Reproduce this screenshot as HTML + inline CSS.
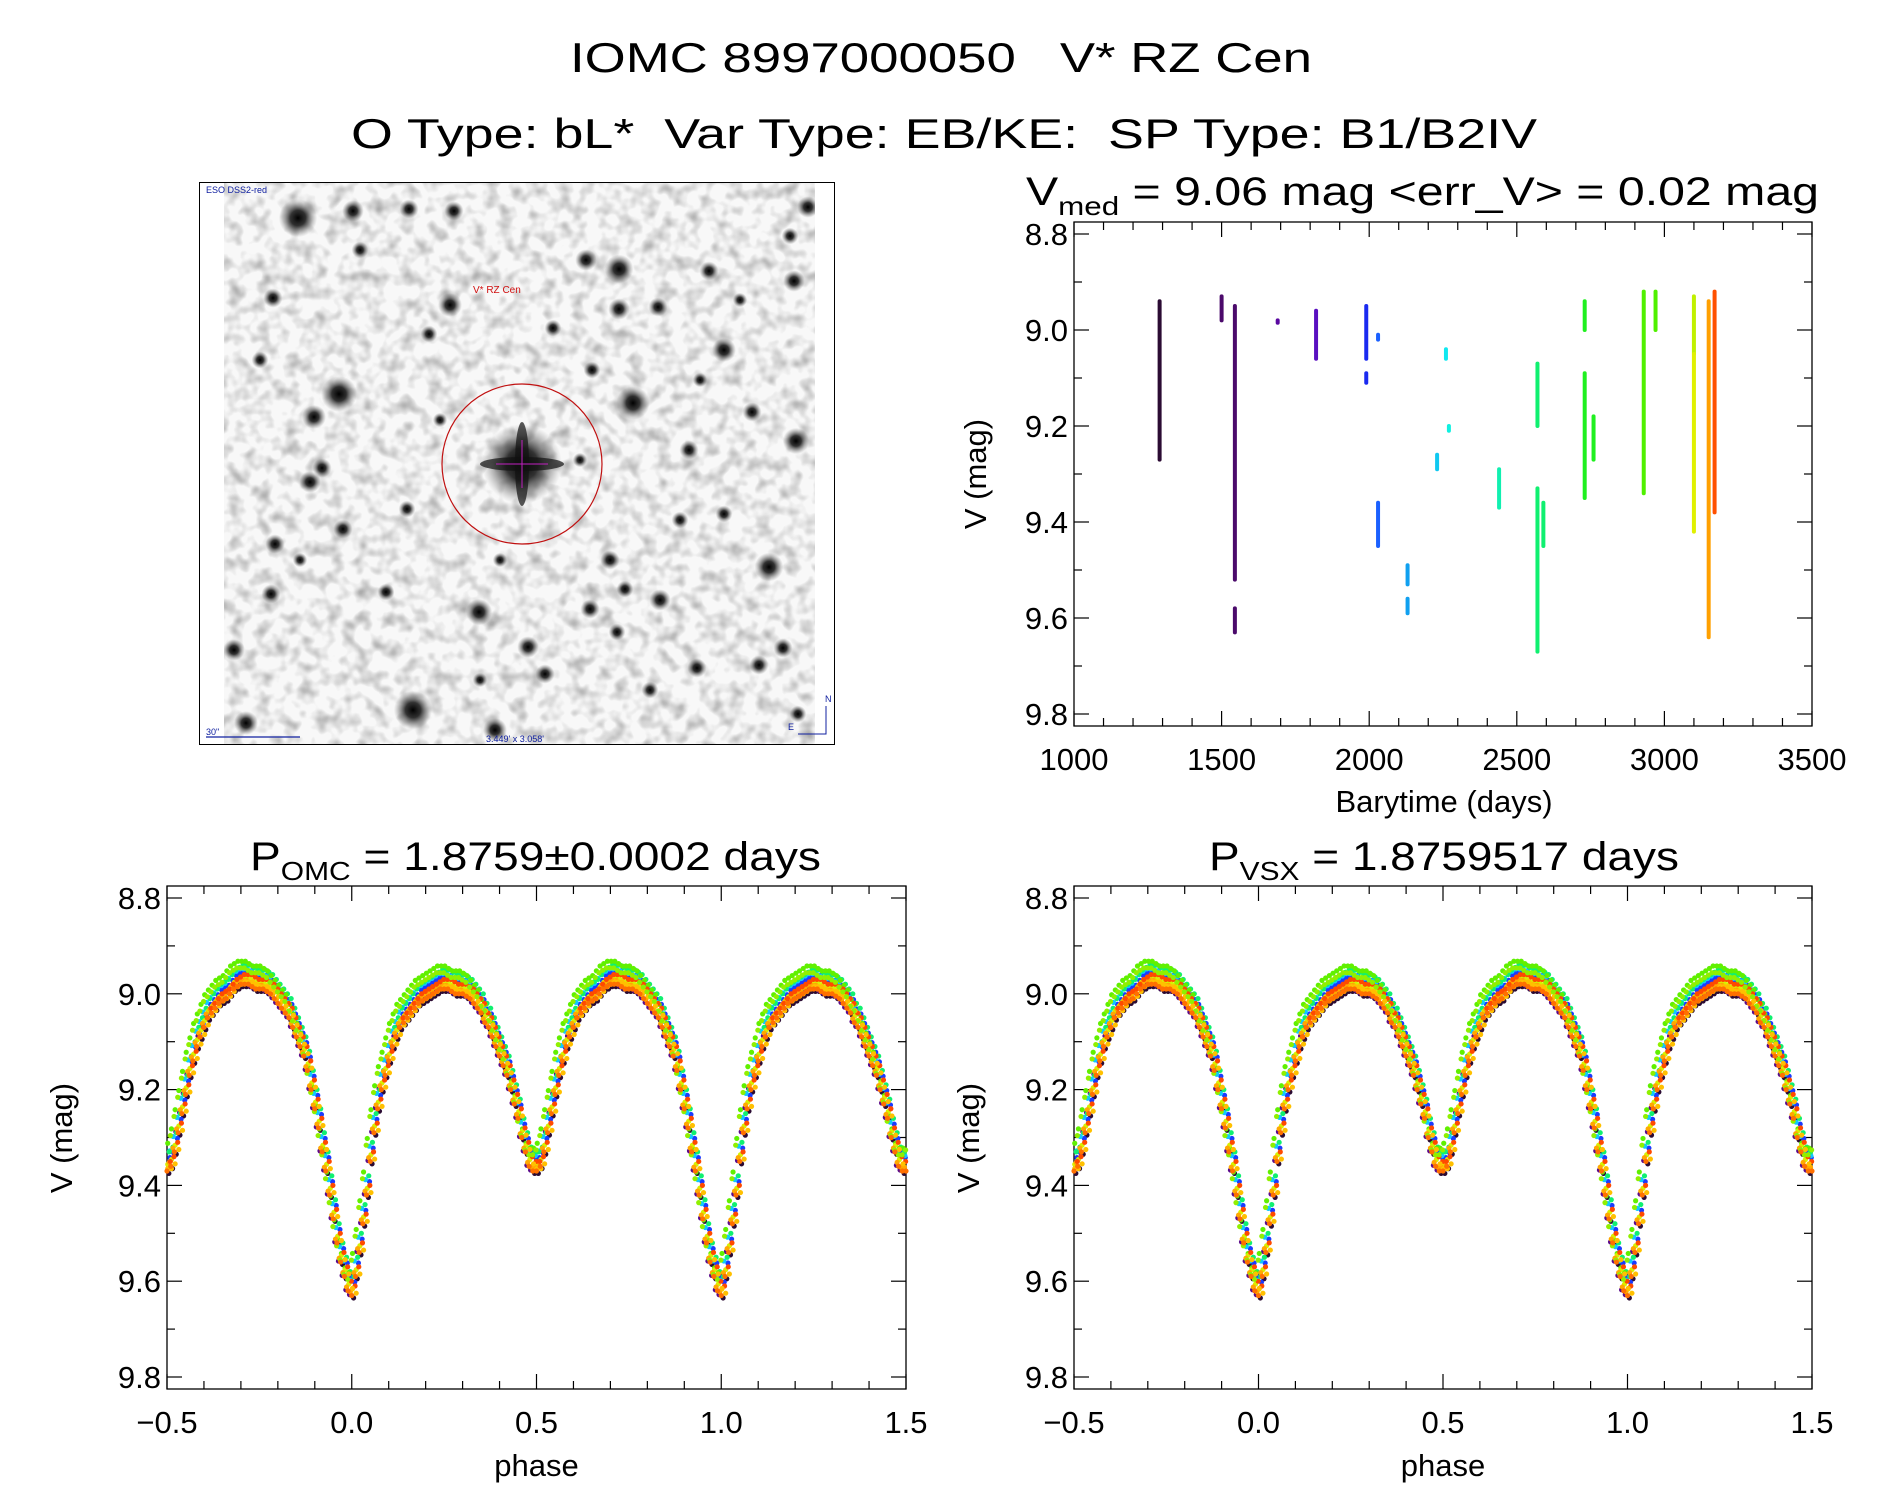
<!DOCTYPE html>
<html><head><meta charset="utf-8">
<style>
html,body{margin:0;padding:0;background:#fff;}
svg{display:block;font-family:"Liberation Sans",sans-serif;}
text{white-space:pre;}
</style></head>
<body>
<svg id="fig" width="1889" height="1494" viewBox="0 0 1889 1494" xmlns="http://www.w3.org/2000/svg">
<defs>
<filter id="mottle" x="0" y="0" width="100%" height="100%">
<feTurbulence type="fractalNoise" baseFrequency="0.07" numOctaves="2" seed="7"/>
<feColorMatrix type="matrix" values="0 0 0 0 0  0 0 0 0 0  0 0 0 0 0  -2.2 0 0 0 1.25"/>
</filter>
<radialGradient id="starg"><stop offset="0" stop-color="#000" stop-opacity="1"/><stop offset="0.4" stop-color="#111" stop-opacity="0.85"/><stop offset="1" stop-color="#666" stop-opacity="0"/></radialGradient>
<clipPath id="imgclip"><rect x="224" y="182" width="591" height="563"/></clipPath>
</defs>
<text x="570" y="72" font-size="42" textLength="742" lengthAdjust="spacingAndGlyphs">IOMC 8997000050   V* RZ Cen</text>
<text x="351" y="148" font-size="42" textLength="1186" lengthAdjust="spacingAndGlyphs">O Type: bL*  Var Type: EB/KE:  SP Type: B1/B2IV</text>

<g>
<rect x="199" y="182" width="636" height="563" fill="#fff"/>
<g clip-path="url(#imgclip)">
<rect x="224" y="182" width="591" height="563" fill="#f8f8f8"/>
<rect x="224" y="182" width="591" height="563" filter="url(#mottle)" opacity="0.3"/>
<g id="stars"></g>
<g>
<circle cx="522" cy="464" r="40" fill="url(#starg)"/>
<ellipse cx="522" cy="464" rx="7" ry="42" fill="#111" opacity="0.7"/>
<ellipse cx="522" cy="464" rx="42" ry="7" fill="#111" opacity="0.7"/>
<line x1="496" y1="464" x2="548" y2="464" stroke="#c020c0" stroke-width="1"/>
<line x1="522" y1="440" x2="522" y2="488" stroke="#c020c0" stroke-width="1"/>
</g>
<ellipse cx="522" cy="464" rx="80" ry="80" fill="none" stroke="#c01010" stroke-width="1.2"/>
<text x="473" y="293" font-size="10" fill="#d01010">V* RZ Cen</text>
</g>
<rect x="199.5" y="182.5" width="635" height="562" fill="none" stroke="#000" stroke-width="1"/>
<text x="206" y="193" font-size="9" fill="#1020a0">ESO DSS2-red</text>
<line x1="206" y1="737" x2="300" y2="737" stroke="#1020a0" stroke-width="1.2"/>
<text x="206" y="735" font-size="9" fill="#1020a0">30"</text>
<text x="486" y="742" font-size="9" fill="#1020a0">3.449' x 3.058'</text>
<text x="825" y="702" font-size="9" fill="#1020a0">N</text>
<text x="788" y="730" font-size="9" fill="#1020a0">E</text>
<path d="M826 706 V734 H798" fill="none" stroke="#1020a0" stroke-width="1"/>
</g>

<g id="plotTop"></g>
<g id="plotBL"></g>
<g id="plotBR"></g>
</svg>
<script>
// ---- data ----
const starX = [298,353,409,454,619,586,709,794,808,273,450,619,658,553,724,339,314,633,796,689,310,322,769,610,660,479,413,495,246,234,271,275,545,528,697,759,783,590,617,386,407,343,592,429,790,752,798,724,625,360,440,500,680,740,260,580,700,650,480,300];
const starY = [218,211,209,211,269,260,271,281,207,298,305,309,307,328,350,394,417,403,441,450,482,468,567,560,600,612,710,730,723,650,594,544,674,647,668,665,648,609,632,592,509,529,370,334,236,412,714,514,589,250,420,560,520,300,360,460,380,690,680,560];
const starR = [16,9,8,8,12,9,8,9,9,8,10,9,8,7,10,15,10,14,11,8,9,8,12,8,9,11,16,10,10,9,8,8,8,9,8,8,8,8,7,7,7,8,7,7,7,8,7,7,7,7,6,6,7,6,7,6,6,7,6,6];

const segTime = [1290,1500,1545,1545,1690,1820,1990,1990,2030,2030,2130,2130,2230,2260,2270,2440,2570,2570,2590,2730,2730,2760,2930,2970,3100,3100,3150,3170];
const segTop  = [8.94,8.93,8.95,9.58,8.98,8.96,8.95,9.09,9.01,9.36,9.49,9.56,9.26,9.04,9.20,9.29,9.07,9.33,9.36,8.94,9.09,9.18,8.92,8.92,8.93,9.05,8.94,8.92];
const segBot  = [9.27,8.98,9.52,9.63,8.985,9.06,9.06,9.11,9.02,9.45,9.53,9.59,9.29,9.06,9.21,9.37,9.20,9.67,9.45,9.00,9.35,9.27,9.34,9.00,9.05,9.42,9.64,9.38];
const segColor= ['#2b0b33','#4b0a6b','#4b0a6b','#4b0a6b','#5a08a0','#5a10c0','#1a2af0','#1a2af0','#1a60ff','#1a60ff','#10a0f0','#10a0f0','#10c8f0','#10e8f0','#10f0e0','#10f0b0','#10f070','#10f070','#10f070','#20f020','#20f020','#20f020','#50f000','#50f000','#c0f000','#e0f000','#ffa000','#ff5000'];

const timeTicks = [1000,1500,2000,2500,3000,3500];
const magTicks = [8.8,9.0,9.2,9.4,9.6,9.8];
const phaseTicks = [-0.5,0.0,0.5,1.0,1.5];

const phase = [0.00,0.01,0.02,0.03,0.04,0.05,0.06,0.07,0.08,0.09,0.10,0.11,0.12,0.13,0.14,0.15,0.16,0.17,0.18,0.19,0.20,0.21,0.22,0.23,0.24,0.25,0.26,0.27,0.28,0.29,0.30,0.31,0.32,0.33,0.34,0.35,0.36,0.37,0.38,0.39,0.40,0.41,0.42,0.43,0.44,0.45,0.46,0.47,0.48,0.49,0.50,0.51,0.52,0.53,0.54,0.55,0.56,0.57,0.58,0.59,0.60,0.61,0.62,0.63,0.64,0.65,0.66,0.67,0.68,0.69,0.70,0.71,0.72,0.73,0.74,0.75,0.76,0.77,0.78,0.79,0.80,0.81,0.82,0.83,0.84,0.85,0.86,0.87,0.88,0.89,0.90,0.91,0.92,0.93,0.94,0.95,0.96,0.97,0.98,0.99];
const phaseMag = [9.61,9.57,9.52,9.46,9.40,9.33,9.27,9.22,9.18,9.15,9.12,9.09,9.07,9.05,9.04,9.03,9.02,9.01,9.00,8.995,8.99,8.985,8.98,8.975,8.97,8.97,8.97,8.975,8.98,8.98,8.98,8.985,8.99,9.00,9.01,9.02,9.04,9.05,9.07,9.09,9.11,9.13,9.15,9.18,9.21,9.24,9.28,9.31,9.34,9.35,9.35,9.34,9.31,9.27,9.23,9.19,9.15,9.12,9.09,9.07,9.05,9.03,9.02,9.01,9.00,8.995,8.99,8.98,8.97,8.965,8.96,8.96,8.96,8.965,8.97,8.97,8.97,8.975,8.98,8.99,9.00,9.01,9.02,9.03,9.05,9.07,9.09,9.11,9.14,9.18,9.22,9.26,9.31,9.35,9.40,9.45,9.50,9.54,9.57,9.60];
const groupColor = ['#2b0b33','#5a0a8a','#1a3aff','#10c8ff','#10f070','#60f000','#d8f000','#ffa800','#ff4a00','#ffc000','#90f000','#ff7000'];
const groupDPhase = [0.005,-0.006,0.008,-0.003,0.006,-0.008,0.002,-0.004,0.009,0.012,-0.011,0.0];
const groupDMag = [0.025,0.018,-0.008,-0.012,-0.02,-0.028,0.006,0.012,0.0,0.015,-0.014,0.02];

const NS='http://www.w3.org/2000/svg';
function mk(tag, attrs, parent){const e=document.createElementNS(NS,tag);for(const k in attrs)e.setAttribute(k,attrs[k]);parent.appendChild(e);return e;}

const sg=document.getElementById('stars');
for(let i=0;i<starX.length;i++){
  const c=mk('circle',{cx:starX[i],cy:starY[i],r:starR[i]*1.2,fill:'url(#starg)'},sg);
  
  
}

function axes(g, L,T,R,B, xmin,xmax,xticks,xminor,xfmt, ymin,ymax){
  const sx=v=>L+(v-xmin)/(xmax-xmin)*(R-L);
  const yTop=T+12, yBot=B-12;
  const sy=v=>yTop+(v-ymin)/(ymax-ymin)*(yBot-yTop);
  const fr=mk('rect',{x:L,y:T,width:R-L,height:B-T,fill:'none',stroke:'#000','stroke-width':1.3},g);
  
  
  for(let v=Math.round(ymin*10);v<=Math.round(ymax*10);v++){
    const m=v/10, y=sy(m), major=(v%2===0), len=major?15:8;
    mk('line',{x1:L,y1:y,x2:L+len,y2:y,stroke:'#000','stroke-width':1.2},g);
    mk('line',{x1:R,y1:y,x2:R-len,y2:y,stroke:'#000','stroke-width':1.2},g);
  }
  magTicks.forEach(m=>{
    const t=mk('text',{x:L-6,y:sy(m)+11,'font-size':31,'text-anchor':'end'},g);
    t.textContent=m.toFixed(1);
    
    
  });
  for(let v=xmin; v<=xmax+1e-9; v+=xminor){
    const x=sx(v), major=xticks.some(t=>Math.abs(t-v)<1e-6), len=major?15:8;
    mk('line',{x1:x,y1:B,x2:x,y2:B-len,stroke:'#000','stroke-width':1.2},g);
    mk('line',{x1:x,y1:T,x2:x,y2:T+len,stroke:'#000','stroke-width':1.2},g);
  }
  xticks.forEach(v=>{
    const t=mk('text',{x:sx(v),y:B+44,'font-size':31,'text-anchor':'middle'},g);
    t.textContent=xfmt(v);
    
    
  });
  return {sx,sy};
}
function ylabel(g,x,y){
  const t=mk('text',{x:x,y:y,'font-size':31,'text-anchor':'middle',transform:`rotate(-90 ${x} ${y})`},g);
  t.textContent='V (mag)';
  
  
}

const gT=document.getElementById('plotTop');
const tT=mk('text',{x:1026,y:205,'font-size':40,textLength:793,lengthAdjust:'spacingAndGlyphs'},gT);
tT.innerHTML='V<tspan font-size="26" dy="10">med</tspan><tspan dy="-10"> = 9.06 mag &lt;err_V&gt; = 0.02 mag</tspan>';


const aT=axes(gT,1074,222,1812,726,1000,3500,timeTicks,100,v=>String(v),8.8,9.8);
ylabel(gT,986,474);
const xl=mk('text',{x:1444,y:812,'font-size':31,'text-anchor':'middle'},gT);
xl.textContent='Barytime (days)';


for(let i=0;i<segTime.length;i++){
  const x=aT.sx(segTime[i]), y1=aT.sy(segTop[i]), y2=aT.sy(segBot[i]);
  const r=mk('rect',{x:x-2,y:y1-2,width:4,height:Math.max(4,y2-y1+4),rx:2,fill:segColor[i]},gT);
  
  
}

function phasePlot(id,L,R,titleHTML,tx,tlen){
  const g=document.getElementById(id);
  const t=mk('text',{x:tx,y:870,'font-size':40,textLength:tlen,lengthAdjust:'spacingAndGlyphs'},g);
  t.innerHTML=titleHTML;
  
  
  const a=axes(g,L,886,R,1389,-0.5,1.5,phaseTicks,0.1,v=>v<0?'\u2212'+Math.abs(v).toFixed(1):v.toFixed(1),8.8,9.8);
  ylabel(g,L-95,1138);
  const xl=mk('text',{x:(L+R)/2,y:1476,'font-size':31,'text-anchor':'middle'},g);
  xl.textContent='phase';
  
  
  for(let gi=0;gi<groupColor.length;gi++){
    for(let i=0;i<phase.length;i++){
      for(let k=-1;k<=1;k++){
        const p=phase[i]+groupDPhase[gi]+k;
        if(p<-0.5||p>1.5) continue;
        const c=mk('circle',{cx:a.sx(p),cy:a.sy(phaseMag[i]+groupDMag[gi]),r:2.6,fill:groupColor[gi]},g);
        
        
      }
    }
  }
}
phasePlot('plotBL',167,906,'P<tspan font-size="26" dy="10">OMC</tspan><tspan dy="-10"> = 1.8759\u00B10.0002 days</tspan>',250,571);
phasePlot('plotBR',1074,1812,'P<tspan font-size="26" dy="10">VSX</tspan><tspan dy="-10"> = 1.8759517 days</tspan>',1209,470);
</script>
</body></html>
